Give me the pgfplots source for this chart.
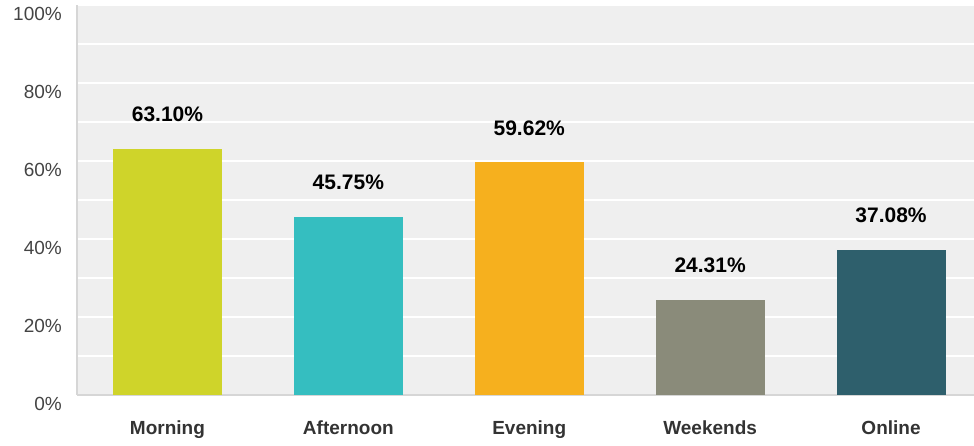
\documentclass[border=0pt]{standalone}
\usepackage{pgfplots}
\pgfplotsset{compat=1.18}
\usepackage{fontspec}
\setmainfont{Liberation Sans}
\definecolor{cMorning}{HTML}{CFD42A}
\definecolor{cAfternoon}{HTML}{35BEC0}
\definecolor{cEvening}{HTML}{F6B01E}
\definecolor{cWeekends}{HTML}{8A8B7A}
\definecolor{cOnline}{HTML}{2E5F6C}
\definecolor{bgc}{HTML}{EFEFEF}
\definecolor{axc}{HTML}{D6D6D6}
\definecolor{tickc}{HTML}{444444}
\definecolor{catc}{HTML}{333333}
\begin{document}
\begin{tikzpicture}[x=1pt,y=1pt]
\path[use as bounding box] (-77,-51) rectangle (897,395);
\begin{axis}[
  at={(0,0)}, anchor=south west,
  scale only axis, width=904.5pt, height=390pt,
  xmin=-0.5, xmax=4.5, ymin=0, ymax=100,
  ybar, bar width=109pt, bar shift=0pt,
  xtick={0,1,2,3,4},
  xticklabels={Morning,Afternoon,Evening,Weekends,Online},
  ytick={0,20,40,60,80,100},
  minor ytick={10,30,50,70,90},
  yticklabel={\pgfmathprintnumber{\tick}\%},
  /pgf/number format/assume math mode=true,
  ymajorgrids, yminorgrids,
  major grid style={white, line width=2pt},
  minor grid style={white, line width=2pt},
  axis background/.style={fill=bgc},
  axis x line*=bottom, axis y line*=left,
  axis line style={draw=axc, line width=2pt, -},
  major tick length=0pt, minor tick length=0pt,
  yticklabel style={font=\fontsize{19}{22}\selectfont, text=tickc, inner sep=0pt, xshift=-15pt, yshift=-9pt},
  xticklabel style={font=\bfseries\fontsize{19}{22}\selectfont, text=catc, inner sep=0pt, yshift=-26pt},
  nodes near coords={\pgfmathprintnumber[fixed,fixed zerofill,precision=2]{\pgfplotspointmeta}\%},
  every node near coord/.append style={font=\bfseries\fontsize{21}{24}\selectfont, text=black, inner sep=0pt, anchor=south, yshift=27pt},
]
\addplot[fill=cMorning, draw=none] coordinates {(0,63.10)};
\addplot[fill=cAfternoon, draw=none] coordinates {(1,45.75)};
\addplot[fill=cEvening, draw=none] coordinates {(2,59.62)};
\addplot[fill=cWeekends, draw=none] coordinates {(3,24.31)};
\addplot[fill=cOnline, draw=none] coordinates {(4,37.08)};
\end{axis}
\end{tikzpicture}
\end{document}
